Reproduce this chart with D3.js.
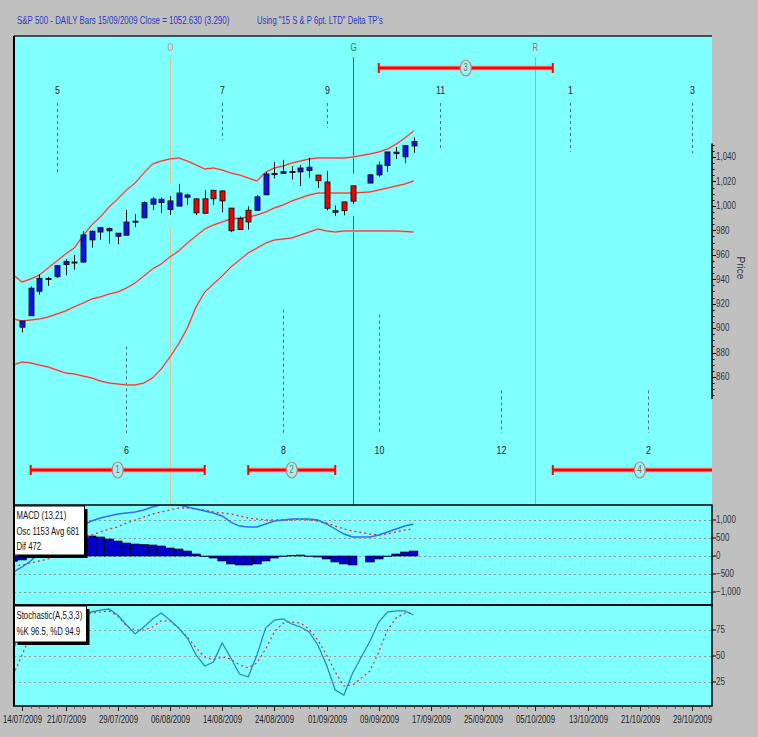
<!DOCTYPE html>
<html>
<head>
<meta charset="utf-8">
<script src="https://cdn.jsdelivr.net/npm/d3@7"></script>
<style>
  html, body { margin: 0; padding: 0; background: #c0c0c0; }
  svg { display: block; }
  text { font-family: "Liberation Sans", Arial, sans-serif; }
</style>
</head>
<body>
<svg id="chart" width="758" height="737"></svg>
<script>
// 標題
const title = 'S&P 500 - DAILY Bars  15/09/2009 Close = 1052.630 (3.290)'
const subTitle = 'Using "15 S & P  6pt. LTD" Delta TP\'s'

// 日綫數據 (14/07/2009 - 15/09/2009)
const dates = ['2009-07-14', '2009-07-15', '2009-07-16', '2009-07-17', '2009-07-20', '2009-07-21', '2009-07-22', '2009-07-23', '2009-07-24', '2009-07-27',
    '2009-07-28', '2009-07-29', '2009-07-30', '2009-07-31', '2009-08-03', '2009-08-04', '2009-08-05', '2009-08-06', '2009-08-07', '2009-08-10',
    '2009-08-11', '2009-08-12', '2009-08-13', '2009-08-14', '2009-08-17', '2009-08-18', '2009-08-19', '2009-08-20', '2009-08-21', '2009-08-24',
    '2009-08-25', '2009-08-26', '2009-08-27', '2009-08-28', '2009-08-31', '2009-09-01', '2009-09-02', '2009-09-03', '2009-09-04', '2009-09-08',
    '2009-09-09', '2009-09-10', '2009-09-11', '2009-09-14', '2009-09-15']
const open = [900.77, 910.15, 930.17, 940.56, 942.07, 951.97, 953.40, 954.07, 972.16, 978.63,
    981.48, 977.66, 976.01, 986.80, 990.22, 1001.41, 1005.41, 1004.06, 999.83, 1008.89,
    1005.77, 994.00, 1005.86, 1012.23, 998.18, 980.62, 986.88, 996.41, 1009.06, 1026.59,
    1026.63, 1027.35, 1027.81, 1031.62, 1025.21, 1019.52, 996.07, 996.12, 1003.84, 1018.67,
    1025.36, 1032.99, 1043.92, 1040.15, 1049.03]
const high = [905.84, 933.95, 943.96, 941.89, 951.62, 956.53, 959.83, 979.42, 979.79, 982.49,
    982.35, 977.76, 996.68, 993.18, 1003.61, 1007.12, 1006.64, 1008.00, 1018.00, 1010.12,
    1005.77, 1012.78, 1013.14, 1012.60, 998.18, 991.20, 999.61, 1008.92, 1027.59, 1035.82,
    1037.75, 1032.47, 1033.33, 1039.47, 1025.21, 1028.45, 1000.34, 1003.43, 1016.48, 1026.07,
    1036.34, 1044.14, 1048.18, 1049.74, 1056.04]
const low = [896.50, 910.15, 927.45, 934.65, 940.99, 943.22, 947.75, 953.27, 965.95, 972.29,
    969.35, 968.65, 976.01, 982.85, 990.22, 996.68, 994.31, 992.49, 999.83, 1000.99,
    992.40, 993.36, 1000.82, 994.60, 978.51, 980.62, 980.62, 996.39, 1009.06, 1022.48,
    1026.21, 1021.57, 1016.20, 1023.13, 1014.62, 996.28, 991.97, 992.25, 1001.65, 1018.67,
    1023.97, 1028.04, 1038.40, 1035.00, 1043.42]
const close = [905.84, 932.68, 940.74, 940.38, 951.13, 954.58, 954.07, 976.29, 979.26, 982.18,
    979.62, 975.15, 986.75, 987.48, 1002.63, 1005.65, 1002.72, 997.08, 1010.48, 1007.10,
    994.35, 1005.81, 1012.73, 1004.09, 979.73, 989.67, 996.46, 1007.37, 1026.13, 1025.57,
    1028.00, 1028.12, 1030.98, 1028.93, 1020.62, 998.04, 994.75, 1003.24, 1016.40, 1025.39,
    1033.37, 1044.14, 1042.73, 1049.34, 1052.63]
// 蠟燭顏色 B=藍 R=紅
const candleTrend = ('BBBBBBBBBBBBBBBBBBBB' + 'RRRRRRR' + 'BBBBBBB' + 'RRRRR' + 'BBBBBB').split('')

// 指標由 13/07/2009 開始
const indDates = ['2009-07-13'].concat(dates)
const bandUpper = [943.5, 937.7, 940.2, 943.5, 949.2, 954.9, 960.6, 965.5, 975.4, 984.4,
    990.9, 999.1, 1005.6, 1013, 1018.7, 1026.9, 1034.3, 1036.7, 1038.4, 1039.2,
    1036.7, 1033.5, 1030.2, 1031, 1029.4, 1026.9, 1025.3, 1022.8, 1020.4, 1027.7,
    1031, 1032.6, 1035.1, 1036.7, 1038.4, 1039.2, 1039.2, 1039.2, 1039.2, 1040,
    1042.5, 1044.1, 1046.5, 1050.6, 1055.5, 1061.3]
const bandMiddle = [907.5, 905.8, 906.6, 907.5, 909.1, 911.5, 914, 917.3, 920.5, 923.8,
    925.5, 927.9, 929.5, 932.8, 936.9, 942.6, 948.4, 952.5, 958.2, 963.1,
    969.6, 975.4, 981.1, 984.4, 986.8, 989.3, 990.1, 990.9, 992.5, 995,
    998.3, 1000.7, 1004, 1006.5, 1008.9, 1010.5, 1010.5, 1010.5, 1010.5, 1010.5,
    1011.4, 1013, 1014.6, 1016.3, 1017.9, 1020.4]
const bandLower = [869.8, 872.3, 871.5, 869.8, 868.2, 865.7, 863.3, 862.5, 860.8, 859.2,
    856.7, 855.1, 854.3, 853.5, 853.5, 855.1, 859.2, 866.5, 876.4, 887,
    900.1, 917.3, 929.5, 936.1, 942.6, 950, 955.7, 961.5, 965.5, 969.6,
    972.1, 972.9, 973.7, 976.2, 978.6, 981.1, 979.5, 978.6, 979.5, 979.5,
    979.5, 979.5, 979.5, 979.5, 979.1, 978.6]

// MACD (13,21)
const macdLine = [-444, -306, -139, 83, 306, 500, 639, 750, 861, 972,
    1056, 1111, 1167, 1194, 1222, 1278, 1361, 1420, 1440, 1420,
    1361, 1306, 1250, 1194, 1111, 944, 833, 806, 806, 889,
    972, 1000, 1028, 1028, 1028, 1000, 889, 750, 611, 528,
    528, 583, 667, 750, 833, 889]
const macdAvg = [-278, -250, -194, -139, -83, 28, 167, 306, 444, 583,
    667, 750, 806, 917, 1000, 1083, 1167, 1222, 1278, 1333,
    1333, 1306, 1278, 1222, 1194, 1167, 1111, 1056, 1028, 1000,
    1000, 1000, 1000, 1028, 1000, 972, 917, 833, 750, 694,
    611, 583, 611, 667, 722, 750]
const macdDif = [-150, -110, -50, 100, 250, 380, 480, 540, 570, 556,
    528, 472, 417, 361, 333, 319, 306, 278, 222, 194,
    139, 56, 0, -56, -139, -222, -250, -250, -222, -139,
    -56, 0, 20, 28, 0, -28, -83, -167, -222, -250,
    -167, -83, 0, 56, 111, 139]
const macdLegend = ['MACD (13,21)', 'Osc 1153 Avg 681', 'Dif 472']

// Stochastic (A,5,3,3)
const stochK = [55.8, 79.8, 92.3, 96.2, 95.2, 93.3, 92.3, 91.3, 90.4, 92.3,
    94.2, 95.2, 89.4, 80, 71.2, 77.9, 85.6, 91.3, 84.6, 76.9,
    67.3, 51, 40.4, 44.2, 62.5, 48.1, 32.7, 29.8, 51, 76.9,
    84.6, 85.6, 80.8, 77.9, 73.1, 60.6, 41.3, 17.3, 12.5, 33.7,
    64.4, 82.7, 92.3, 93.3, 93.3, 89.4]
const stochD = [31.7, 51, 70.2, 86.5, 93.3, 94.2, 93.3, 92.3, 91.3, 91.3,
    92.3, 93.3, 88.5, 78.8, 75, 75, 77.9, 83.7, 83.7, 76.9,
    68.3, 57.7, 49, 46.2, 49, 47.1, 41.3, 38.5, 43.3, 56.7,
    73.1, 81.7, 82.7, 81.7, 76, 65.4, 51, 34.6, 21.2, 22.1,
    35.6, 53.8, 75, 86.5, 91.3, 91.3]
const stochLegend = ['Stochastic(A,5,3,3)', '%K 96.5, %D 94.9']

// 刻度
const priceTicks = [860, 880, 900, 920, 940, 960, 980, 1000, 1020, 1040]
const macdTicks = [-1000, -500, 0, 500, 1000]
const stochTicks = [25, 50, 75]
const xTickLabels = ['14/07/2009', '21/07/2009', '29/07/2009', '06/08/2009', '14/08/2009', '24/08/2009', '01/09/2009',
    '09/09/2009', '17/09/2009', '25/09/2009', '05/10/2009', '13/10/2009', '21/10/2009', '29/10/2009']

// 時間線 O / G / R
const markerNames = ['O', 'G', 'R']
const markerDates = ['2009-08-06', '2009-09-04', '2009-10-05']

// 週期數字及虛線 (reach = 虛線末端價位)
const cycleLabels = ['5', '6', '7', '8', '9', '10', '11', '12', '1', '2', '3']
const cycleDates = ['2009-07-20', '2009-07-30', '2009-08-14', '2009-08-25', '2009-09-01', '2009-09-09',
    '2009-09-18', '2009-09-29', '2009-10-09', '2009-10-22', '2009-10-29']
const cycleRow = ['top', 'bottom', 'top', 'bottom', 'top', 'bottom', 'top', 'bottom', 'top', 'bottom', 'top']
const cycleReach = [1027, 885, 1054, 915, 1064, 911, 1046, 849, 1044, 849, 1043]

// 時間窗 (紅色橫條)
const rangeLabels = ['1', '2', '3', '4']
const rangeFrom = ['2009-07-15', '2009-08-19', '2009-09-09', '2009-10-07']
const rangeTo = ['2009-08-12', '2009-09-02', '2009-10-07', '2009-11-04']
const rangeRow = ['bottom', 'bottom', 'top', 'bottom']

// ---- 樣式 ----
const style = {
    cyan: '#80ffff',
    grey: '#c0c0c0',
    blue: '#1010e8',
    red: '#f00000',
    band: '#e02828',
    markerLine: { O: '#d8c890', G: '#00a000', R: '#a8a8a8' },
    markerText: { O: '#f08070', G: '#109010', R: '#e85050' },
    cycleDash: '#4f6f80',
    text: '#2a2a2a'
}
const L = 14, R = 712
const mainP = { top: 36, bottom: 505 }
const macdP = { top: 505, bottom: 605 }
const stoP = { top: 605, bottom: 706 }
const rowY = { top: 68, bottom: 470 }
const numY = { top: 90, bottom: 450 }

const svg = d3.select('#chart')
svg.append('rect').attr('width', 758).attr('height', 737).attr('fill', style.grey)

// 窄字體文字 (水平壓縮)
function narrowText(parent, str, px, py, o = {}) {
    return parent.append('text')
        .attr('transform', `translate(${px},${py}) scale(${o.sx || 0.8},1)`)
        .attr('font-size', o.size || 10)
        .attr('fill', o.fill || style.text)
        .attr('text-anchor', o.anchor || 'start')
        .attr('dominant-baseline', 'central')
        .text(str)
}

// ---- 比例尺 ----
const parse = d3.timeParse('%Y-%m-%d')
const fmt = d3.timeFormat('%Y-%m-%d')
const weekdays = d3.timeDay.range(parse('2009-07-13'), parse('2009-11-06'))
    .filter((d) => d.getDay() > 0 && d.getDay() < 6)
    .map(fmt)
const slot = new Map(weekdays.map((d, i) => [d, i]))
const x = d3.scaleLinear().domain([1, 78]).range([22, 692])
const xd = (s) => x(slot.get(s))
const step = x(1) - x(0)

const y = d3.scaleLinear().domain([860, 1040]).range([377, 157])
const my = d3.scaleLinear().domain([-1000, 1000]).range([592, 520])
const sy = d3.scaleLinear().domain([25, 75]).range([682, 630])

// ---- 面板 ----
function addPanel(id, p) {
    svg.append('rect').attr('x', L).attr('y', p.top).attr('width', R - L).attr('height', p.bottom - p.top).attr('fill', style.cyan)
    svg.append('clipPath').attr('id', id)
        .append('rect').attr('x', L).attr('y', p.top).attr('width', R - L).attr('height', p.bottom - p.top)
    return svg.append('g').attr('clip-path', `url(#${id})`)
}
const gMain = addPanel('clipMain', mainP)
const gMacd = addPanel('clipMacd', macdP)
const gSto = addPanel('clipSto', stoP)

const candles = dates.map((d, i) => ({ date: d, o: open[i], h: high[i], l: low[i], c: close[i], trend: candleTrend[i] }))
const byDate = new Map(candles.map((d) => [d.date, d]))

// 時間線
markerNames.forEach((name, i) => {
    const mx = Math.round(xd(markerDates[i])) + 0.5
    const bar = byDate.get(markerDates[i])
    const segs = bar ? [[57, y(bar.h) - 12], [y(bar.l) + 12, mainP.bottom]] : [[57, mainP.bottom]]
    segs.forEach((s) => {
        gMain.append('line').attr('x1', mx).attr('x2', mx).attr('y1', s[0]).attr('y2', s[1])
            .attr('stroke', style.markerLine[name]).attr('stroke-width', 1)
    })
    narrowText(gMain, name, mx, 48, { fill: style.markerText[name], anchor: 'middle' })
})

// 週期虛線
cycleLabels.forEach((lab, i) => {
    const cx = Math.round(xd(cycleDates[i])) + 0.5
    const top = cycleRow[i] == 'top'
    gMain.append('line').attr('x1', cx).attr('x2', cx)
        .attr('y1', top ? 103 : y(cycleReach[i]))
        .attr('y2', top ? y(cycleReach[i]) : 433)
        .attr('stroke', style.cycleDash).attr('stroke-width', 1).attr('stroke-dasharray', '3,3')
    narrowText(gMain, lab, cx, numY[cycleRow[i]], { fill: '#222', size: 11, anchor: 'middle' })
})

// 保力加通道
const bandLine = d3.line().x((d) => xd(d.date)).y((d) => y(d.v))
;[bandUpper, bandMiddle, bandLower].forEach((arr) => {
    const pts = indDates.map((d, i) => ({ date: d, v: arr[i] }))
    gMain.append('path').attr('d', bandLine(pts)).attr('fill', 'none')
        .attr('stroke', '#eaa4a4').attr('stroke-width', 2)
    gMain.append('path').attr('d', bandLine(pts)).attr('fill', 'none')
        .attr('stroke', style.band).attr('stroke-width', 0.9)
})

// 蠟燭
const candle = gMain.append('g').selectAll('g').data(candles).enter().append('g')
candle.append('line')
    .attr('x1', (d) => Math.round(xd(d.date)) + 0.5)
    .attr('x2', (d) => Math.round(xd(d.date)) + 0.5)
    .attr('y1', (d) => y(d.h))
    .attr('y2', (d) => y(d.l))
    .attr('stroke', '#111').attr('stroke-width', 1)
candle.append('rect')
    .attr('x', (d) => Math.round(xd(d.date)) - 2)
    .attr('y', (d) => y(Math.max(d.o, d.c)))
    .attr('width', 5)
    .attr('height', (d) => Math.max(1, Math.abs(y(d.o) - y(d.c))))
    .attr('fill', (d) => (d.trend == 'B' ? style.blue : style.red))
    .attr('stroke', '#111').attr('stroke-width', 0.9)

// 時間窗橫條
rangeLabels.forEach((lab, i) => {
    const x1 = xd(rangeFrom[i]), x2 = xd(rangeTo[i]), ry = rowY[rangeRow[i]]
    const g = gMain.append('g')
    g.append('line').attr('x1', x1).attr('x2', x2).attr('y1', ry).attr('y2', ry)
        .attr('stroke', '#ff7070').attr('stroke-width', 4.5)
    g.append('line').attr('x1', x1).attr('x2', x2).attr('y1', ry).attr('y2', ry)
        .attr('stroke', '#ff0000').attr('stroke-width', 2.5)
    ;[x1, x2].forEach((ex) => {
        g.append('line').attr('x1', ex).attr('x2', ex).attr('y1', ry - 5).attr('y2', ry + 5)
            .attr('stroke', '#ff0000').attr('stroke-width', 2)
    })
    const cx = (x1 + x2) / 2
    g.append('ellipse').attr('cx', cx).attr('cy', ry).attr('rx', 5.5).attr('ry', 8)
        .attr('fill', style.cyan).attr('stroke', '#e07070').attr('stroke-width', 1.2)
    narrowText(g, lab, cx, ry, { fill: '#e04040', size: 10, anchor: 'middle' })
})

// ---- MACD ----
macdTicks.forEach((t) => {
    gMacd.append('line').attr('x1', L).attr('x2', R).attr('y1', Math.round(my(t)) + 0.5).attr('y2', Math.round(my(t)) + 0.5)
        .attr('stroke', '#909090').attr('stroke-dasharray', '2,3')
})
gMacd.append('g').selectAll('rect').data(indDates.map((d, i) => ({ date: d, v: macdDif[i] }))).enter()
    .append('rect')
    .attr('x', (d) => xd(d.date) - step / 2)
    .attr('width', step)
    .attr('y', (d) => my(Math.max(0, d.v)))
    .attr('height', (d) => Math.max(0.5, Math.abs(my(d.v) - my(0))))
    .attr('fill', '#0000c8').attr('stroke', '#000').attr('stroke-width', 0.6)
const mLine = d3.line().x((d) => xd(d.date)).y((d) => my(d.v))
gMacd.append('path').attr('d', mLine(indDates.map((d, i) => ({ date: d, v: macdAvg[i] }))))
    .attr('fill', 'none').attr('stroke', '#ff2020').attr('stroke-width', 1.3).attr('stroke-dasharray', '2,3')
gMacd.append('path').attr('d', mLine(indDates.map((d, i) => ({ date: d, v: macdLine[i] }))))
    .attr('fill', 'none').attr('stroke', '#2f6fe8').attr('stroke-width', 1.4)

// ---- Stochastic ----
stochTicks.forEach((t) => {
    gSto.append('line').attr('x1', L).attr('x2', R).attr('y1', Math.round(sy(t)) + 0.5).attr('y2', Math.round(sy(t)) + 0.5)
        .attr('stroke', '#b09090').attr('stroke-dasharray', '2,3')
})
const sLine = d3.line().x((d) => xd(d.date)).y((d) => sy(d.v))
gSto.append('path').attr('d', sLine(indDates.map((d, i) => ({ date: d, v: stochD[i] }))))
    .attr('fill', 'none').attr('stroke', '#ff2020').attr('stroke-width', 1.2).attr('stroke-dasharray', '2,3')
gSto.append('path').attr('d', sLine(indDates.map((d, i) => ({ date: d, v: stochK[i] }))))
    .attr('fill', 'none').attr('stroke', '#2a88c0').attr('stroke-width', 1.3)

// 圖例方塊
function legendBox(lines, bx, by, bw, bh, lineGap) {
    svg.append('rect').attr('x', bx + 3).attr('y', by + 3).attr('width', bw).attr('height', bh).attr('fill', '#000')
    svg.append('rect').attr('x', bx).attr('y', by).attr('width', bw).attr('height', bh)
        .attr('fill', '#fff').attr('stroke', '#000').attr('stroke-width', 1)
    lines.forEach((s, i) => narrowText(svg, s, bx + 2, by + 10 + i * lineGap, { fill: '#111', sx: 0.78 }))
}
legendBox(macdLegend, 14.5, 506, 70, 49, 15.5)
legendBox(stochLegend, 14.5, 606, 72, 36, 16)

// ---- 邊框 ----
svg.append('line').attr('x1', L).attr('x2', R).attr('y1', mainP.top).attr('y2', mainP.top).attr('stroke', '#222').attr('stroke-width', 1.5)
svg.append('line').attr('x1', L).attr('x2', L).attr('y1', mainP.top).attr('y2', stoP.bottom).attr('stroke', '#000').attr('stroke-width', 2)
;[macdP, stoP].forEach((p) => {
    svg.append('rect').attr('x', L).attr('y', p.top).attr('width', R - L).attr('height', p.bottom - p.top)
        .attr('fill', 'none').attr('stroke', '#000').attr('stroke-width', 1.5)
})

// ---- 右側刻度 ----
svg.append('line').attr('x1', R).attr('x2', R).attr('y1', y(1051)).attr('y2', y(842)).attr('stroke', '#000').attr('stroke-width', 1.5)
d3.range(845, 1051, 5).forEach((t) => {
    const ty = Math.round(y(t)) + 0.5
    svg.append('line').attr('x1', R).attr('x2', R + (t % 20 == 0 ? 4 : 2.5)).attr('y1', ty).attr('y2', ty).attr('stroke', '#000')
})
priceTicks.forEach((t) => narrowText(svg, d3.format(',')(t), R + 4, y(t), { fill: '#333' }))
svg.append('text').attr('transform', 'translate(740,268) rotate(90)')
    .attr('font-size', 10).attr('fill', '#333').attr('text-anchor', 'middle').attr('dominant-baseline', 'central')
    .text('Price')

macdTicks.forEach((t) => {
    svg.append('line').attr('x1', R).attr('x2', R + 4).attr('y1', my(t)).attr('y2', my(t)).attr('stroke', '#000')
    narrowText(svg, d3.format(',')(t), R + 4, my(t), { fill: '#333' })
})
stochTicks.forEach((t) => {
    svg.append('line').attr('x1', R).attr('x2', R + 4).attr('y1', sy(t)).attr('y2', sy(t)).attr('stroke', '#000')
    narrowText(svg, t, R + 4, sy(t), { fill: '#333' })
})

// ---- 時間軸 ----
const parseLabel = d3.timeParse('%d/%m/%Y')
weekdays.forEach((d) => {
    const tx = Math.round(x(slot.get(d))) + 0.5
    if (tx > L && tx < R) {
        svg.append('line').attr('x1', tx).attr('x2', tx).attr('y1', stoP.bottom).attr('y2', stoP.bottom + 2.5).attr('stroke', '#444')
    }
})
xTickLabels.forEach((s) => {
    const tx = Math.round(xd(fmt(parseLabel(s)))) + 0.5
    svg.append('line').attr('x1', tx).attr('x2', tx).attr('y1', stoP.bottom).attr('y2', stoP.bottom + 5).attr('stroke', '#222')
    narrowText(svg, s, tx, 720, { fill: '#222', anchor: 'middle', sx: 0.78 })
})

// ---- 標題 ----
narrowText(svg, title, 17, 20, { fill: '#2838c0', size: 11, sx: 0.72 })
narrowText(svg, subTitle, 257, 20, { fill: '#2838c0', size: 11, sx: 0.7 })
</script>
</body>
</html>
